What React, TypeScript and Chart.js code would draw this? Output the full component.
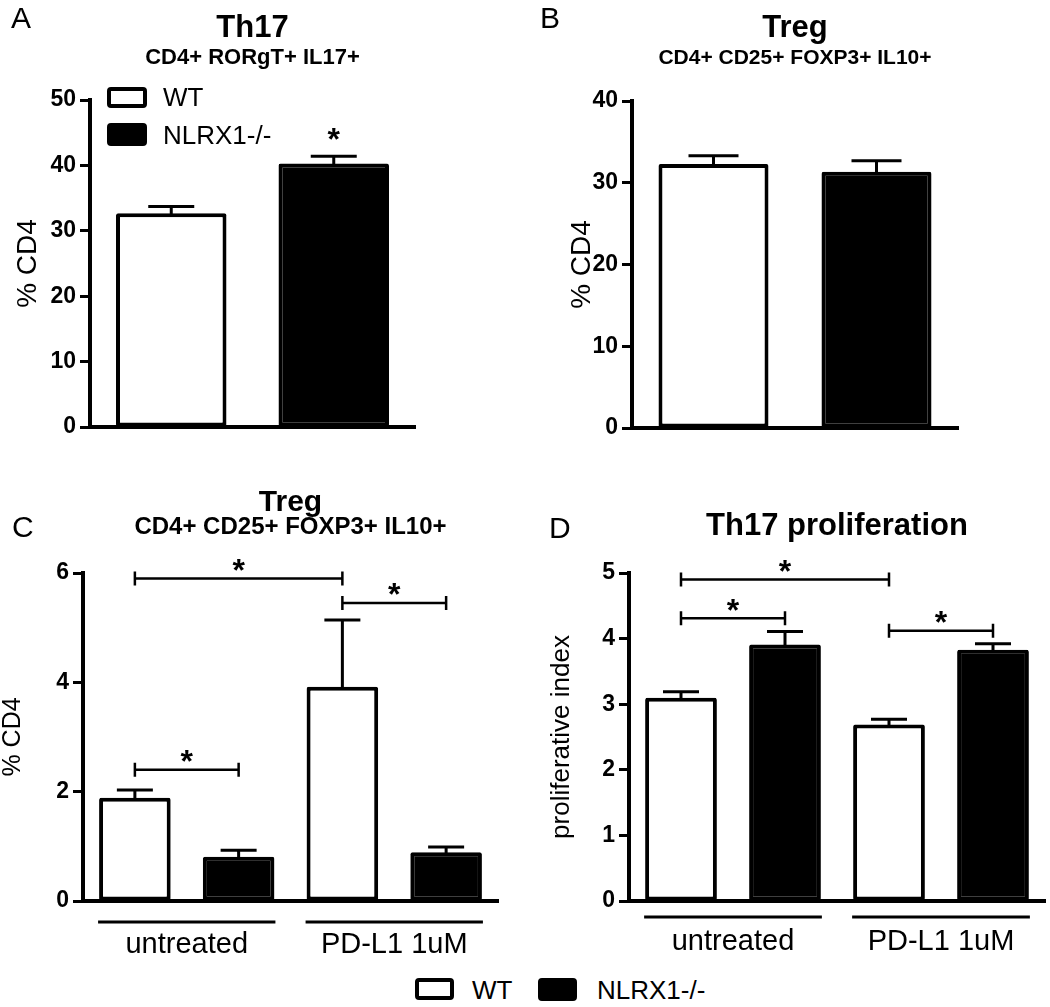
import React, { useEffect, useRef } from "react";
import { Chart, registerables } from "chart.js";

Chart.register(...registerables);

const FONT = '"Liberation Sans", Arial, Helvetica, sans-serif';

// ---------- Panel A: Th17 ----------
const aCategories = ["WT", "NLRX1-/-"];
const aValues = [32.7, 40.3];
const aErrors = [1.0, 1.1];
const aMax = 50;
const aStep = 10;
const aStars = [{ dataset: 0, index: 1, y: 45.2 }];

// ---------- Panel B: Treg ----------
const bCategories = ["WT", "NLRX1-/-"];
const bValues = [32.3, 31.35];
const bErrors = [1.0, 1.35];
const bMax = 40;
const bStep = 10;

// ---------- Panels C and D: groups ----------
const groupLabels = ["untreated", "PD-L1 1uM"];
const seriesNames = ["WT", "NLRX1-/-"];

const cWT = [1.89, 3.92];
const cWTErr = [0.14, 1.22];
const cKO = [0.81, 0.89];
const cKOErr = [0.12, 0.1];
const cMax = 6;
const cStep = 2;
const cBrackets = [
  { from: [0, 0], to: [0, 1], y: 5.9 },
  { from: [0, 1], to: [1, 1], y: 5.45 },
  { from: [0, 0], to: [1, 0], y: 2.4 },
];

const dWT = [3.1, 2.69];
const dWTErr = [0.09, 0.08];
const dKO = [3.91, 3.83];
const dKOErr = [0.2, 0.09];
const dMax = 5;
const dStep = 1;
const dBrackets = [
  { from: [0, 0], to: [0, 1], y: 4.9 },
  { from: [0, 0], to: [1, 0], y: 4.31 },
  { from: [0, 1], to: [1, 1], y: 4.12 },
];

type Decor = {
  letter: string;
  letterX: number;
  letterY: number;
  title: string;
  titleY: number;
  titleSize: number;
  subtitle?: string;
  subtitleY?: number;
  subtitleSize?: number;
  errors: number[][];
  cap: number;
  brackets?: { from: number[]; to: number[]; y: number }[];
  stars?: { dataset: number; index: number; y: number }[];
  groups?: string[];
  underOffset?: number;
  labelOffset?: number;
};

const STAR_SIZE = 32;

function drawStar(ctx: CanvasRenderingContext2D, x: number, centerY: number) {
  ctx.font = `bold ${STAR_SIZE}px ${FONT}`;
  ctx.textAlign = "center";
  ctx.textBaseline = "alphabetic";
  ctx.fillText("*", x, centerY + STAR_SIZE * 0.57);
}

function makeDecor(d: Decor) {
  return {
    id: "decor",
    afterDatasetsDraw(chart: any) {
      const ctx: CanvasRenderingContext2D = chart.ctx;
      const area = chart.chartArea;
      const ys = chart.scales.y;
      ctx.save();
      ctx.strokeStyle = "#000";
      ctx.fillStyle = "#000";
      ctx.lineCap = "butt";

      // error bars (upper only)
      d.errors.forEach((errs, di) => {
        const meta = chart.getDatasetMeta(di);
        const vals = chart.data.datasets[di].data as number[];
        meta.data.forEach((el: any, i: number) => {
          const top = el.y + 2;
          const e = ys.getPixelForValue(vals[i] + errs[i]);
          ctx.lineWidth = 3;
          ctx.beginPath();
          ctx.moveTo(el.x, top);
          ctx.lineTo(el.x, e);
          ctx.moveTo(el.x - d.cap / 2, e);
          ctx.lineTo(el.x + d.cap / 2, e);
          ctx.stroke();
        });
      });

      // significance brackets
      (d.brackets || []).forEach((b) => {
        const x1 = chart.getDatasetMeta(b.from[0]).data[b.from[1]].x;
        const x2 = chart.getDatasetMeta(b.to[0]).data[b.to[1]].x;
        const py = ys.getPixelForValue(b.y);
        ctx.lineWidth = 2.5;
        ctx.beginPath();
        ctx.moveTo(x1, py);
        ctx.lineTo(x2, py);
        ctx.moveTo(x1, py - 7);
        ctx.lineTo(x1, py + 7);
        ctx.moveTo(x2, py - 7);
        ctx.lineTo(x2, py + 7);
        ctx.stroke();
        drawStar(ctx, (x1 + x2) / 2, py - 16);
      });

      // stand-alone stars
      (d.stars || []).forEach((s) => {
        const el = chart.getDatasetMeta(s.dataset).data[s.index];
        drawStar(ctx, el.x, ys.getPixelForValue(s.y));
      });

      // group underlines and labels
      if (d.groups) {
        const m0 = chart.getDatasetMeta(0);
        const m1 = chart.getDatasetMeta(1);
        d.groups.forEach((lab, i) => {
          const a: any = m0.data[i];
          const b: any = m1.data[i];
          const l = a.x - a.width / 2 - 1;
          const r = b.x + b.width / 2 + 1;
          const uy = area.bottom + (d.underOffset || 0);
          ctx.lineWidth = 3;
          ctx.beginPath();
          ctx.moveTo(l, uy);
          ctx.lineTo(r, uy);
          ctx.stroke();
          ctx.font = `29px ${FONT}`;
          ctx.textAlign = "center";
          ctx.textBaseline = "alphabetic";
          ctx.fillText(lab, (l + r) / 2, area.bottom + (d.labelOffset || 0));
        });
      }

      // titles and panel letter
      const cx = (area.left + area.right) / 2;
      ctx.textAlign = "center";
      ctx.textBaseline = "alphabetic";
      ctx.font = `bold ${d.titleSize}px ${FONT}`;
      ctx.fillText(d.title, cx, d.titleY);
      if (d.subtitle) {
        ctx.font = `bold ${d.subtitleSize}px ${FONT}`;
        ctx.fillText(d.subtitle, cx, d.subtitleY as number);
      }
      ctx.textAlign = "left";
      ctx.font = `30px ${FONT}`;
      ctx.fillText(d.letter, d.letterX, d.letterY);
      ctx.restore();
    },
  };
}

type PanelSpec = {
  labels: string[];
  datasets: any[];
  max: number;
  step: number;
  yTitle: string;
  yTitleSize: number;
  yTitlePad: number;
  yWidth: number;
  padding: { top: number; left: number; right: number; bottom: number };
  decor: Decor;
};

function buildConfig(p: PanelSpec): any {
  return {
    type: "bar",
    data: { labels: p.labels, datasets: p.datasets },
    options: {
      responsive: false,
      animation: false,
      events: [],
      layout: { padding: p.padding },
      plugins: {
        legend: { display: false },
        tooltip: { enabled: false },
        title: { display: false },
      },
      scales: {
        x: {
          type: "category",
          offset: true,
          grid: { display: false, drawTicks: false },
          ticks: { display: false },
          border: { display: true, color: "#000", width: 4 },
          afterFit: (s: any) => {
            s.height = 0;
          },
        },
        y: {
          type: "linear",
          min: 0,
          max: p.max,
          ticks: {
            stepSize: p.step,
            color: "#000",
            padding: 4,
            font: { family: FONT, size: 23, weight: "bold" },
          },
          grid: {
            display: true,
            drawOnChartArea: false,
            drawTicks: true,
            tickLength: 10,
            tickWidth: 3,
            tickColor: "#000",
            color: "#000",
          },
          border: { display: true, color: "#000", width: 4 },
          title: {
            display: true,
            text: p.yTitle,
            color: "#000",
            font: { family: FONT, size: p.yTitleSize, lineHeight: 1 },
            padding: { top: p.yTitlePad, bottom: 0 },
          },
          afterFit: (s: any) => {
            s.width = p.yWidth;
          },
        },
      },
    },
    plugins: [makeDecor(p.decor)],
  };
}

const barStyle = {
  borderColor: "#000",
  borderWidth: 4,
  borderSkipped: false,
  borderRadius: 2,
  categoryPercentage: 1,
};

const panelA: PanelSpec = {
  labels: aCategories,
  datasets: [
    { ...barStyle, label: "Th17", data: aValues, backgroundColor: ["#fff", "#000"], barPercentage: 0.68 },
  ],
  max: aMax,
  step: aStep,
  yTitle: "% CD4",
  yTitleSize: 28,
  yTitlePad: 14,
  yWidth: 90,
  padding: { top: 100, left: 0, right: 110, bottom: 43 },
  decor: {
    letter: "A", letterX: 11, letterY: 28,
    title: "Th17", titleY: 37, titleSize: 31,
    subtitle: "CD4+ RORgT+ IL17+", subtitleY: 64, subtitleSize: 22,
    errors: [aErrors], cap: 46, stars: aStars,
  },
};

const panelB: PanelSpec = {
  labels: bCategories,
  datasets: [
    { ...barStyle, label: "Treg", data: bValues, backgroundColor: ["#fff", "#000"], barPercentage: 0.675 },
  ],
  max: bMax,
  step: bStep,
  yTitle: "% CD4",
  yTitleSize: 28,
  yTitlePad: 43,
  yWidth: 107,
  padding: { top: 101, left: 0, right: 92, bottom: 42 },
  decor: {
    letter: "B", letterX: 15, letterY: 28,
    title: "Treg", titleY: 37, titleSize: 31,
    subtitle: "CD4+ CD25+ FOXP3+ IL10+", subtitleY: 64, subtitleSize: 21,
    errors: [bErrors], cap: 50,
  },
};

const panelC: PanelSpec = {
  labels: groupLabels,
  datasets: [
    { ...barStyle, label: seriesNames[0], data: cWT, backgroundColor: "#fff", barPercentage: 0.69 },
    { ...barStyle, label: seriesNames[1], data: cKO, backgroundColor: "#000", barPercentage: 0.69 },
  ],
  max: cMax,
  step: cStep,
  yTitle: "% CD4",
  yTitleSize: 25,
  yTitlePad: 1,
  yWidth: 83,
  padding: { top: 103, left: 0, right: 27, bottom: 59 },
  decor: {
    letter: "C", letterX: 12, letterY: 67,
    title: "Treg", titleY: 41, titleSize: 30,
    subtitle: "CD4+ CD25+ FOXP3+ IL10+", subtitleY: 64, subtitleSize: 24,
    errors: [cWTErr, cKOErr], cap: 36, brackets: cBrackets,
    groups: groupLabels, underOffset: 21, labelOffset: 52,
  },
};

const panelD: PanelSpec = {
  labels: groupLabels,
  datasets: [
    { ...barStyle, label: seriesNames[0], data: dWT, backgroundColor: "#fff", barPercentage: 0.69 },
    { ...barStyle, label: seriesNames[1], data: dKO, backgroundColor: "#000", barPercentage: 0.69 },
  ],
  max: dMax,
  step: dStep,
  yTitle: "proliferative index",
  yTitleSize: 26,
  yTitlePad: 24,
  yWidth: 104,
  padding: { top: 103, left: 0, right: 5, bottom: 59 },
  decor: {
    letter: "D", letterX: 24, letterY: 68,
    title: "Th17 proliferation", titleY: 65, titleSize: 31,
    errors: [dWTErr, dKOErr], cap: 36, brackets: dBrackets,
    groups: groupLabels, underOffset: 16, labelOffset: 49,
  },
};

function Panel(props: { spec: PanelSpec; left: number; top: number; width: number; height: number }) {
  const ref = useRef<HTMLCanvasElement>(null);
  useEffect(() => {
    const chart = new Chart(ref.current as HTMLCanvasElement, buildConfig(props.spec));
    return () => chart.destroy();
  }, []);
  return (
    <canvas
      ref={ref}
      width={props.width}
      height={props.height}
      style={{ position: "absolute", left: props.left, top: props.top, width: props.width, height: props.height }}
    />
  );
}

function LegendItem(props: { left: number; top: number; boxW: number; boxH: number; filled: boolean; textLeft: number; centerY: number; text: string }) {
  return (
    <>
      <div
        style={{
          position: "absolute",
          left: props.left,
          top: props.top,
          width: props.boxW,
          height: props.boxH,
          boxSizing: "border-box",
          border: "4px solid #000",
          borderRadius: 4,
          background: props.filled ? "#000" : "#fff",
        }}
      />
      <div
        style={{
          position: "absolute",
          left: props.textLeft,
          top: props.centerY - 13,
          height: 26,
          lineHeight: "26px",
          fontSize: 26,
          fontFamily: FONT,
          color: "#000",
          whiteSpace: "nowrap",
        }}
      >
        {props.text}
      </div>
    </>
  );
}

export default function App() {
  useEffect(() => {
    document.body.style.margin = "0";
    document.body.style.background = "#fff";
  }, []);
  return (
    <div style={{ position: "fixed", left: 0, top: 0, width: 1050, height: 1007, background: "#fff", overflow: "hidden" }}>
      <Panel spec={panelA} left={0} top={0} width={525} height={470} />
      <Panel spec={panelB} left={525} top={0} width={525} height={470} />
      <Panel spec={panelC} left={0} top={470} width={525} height={490} />
      <Panel spec={panelD} left={525} top={470} width={525} height={490} />
      <LegendItem left={107} top={87} boxW={40} boxH={21} filled={false} textLeft={163} centerY={97} text={seriesNames[0]} />
      <LegendItem left={107} top={123} boxW={40} boxH={23} filled={true} textLeft={163} centerY={135} text={seriesNames[1]} />
      <LegendItem left={415} top={978} boxW={39} boxH={22} filled={false} textLeft={472} centerY={990} text={seriesNames[0]} />
      <LegendItem left={538} top={978} boxW={39} boxH={23} filled={true} textLeft={597} centerY={990} text={seriesNames[1]} />
    </div>
  );
}
